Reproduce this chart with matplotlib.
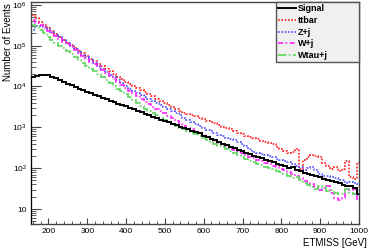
import numpy as np
import matplotlib.pyplot as plt
from matplotlib.ticker import FixedLocator, FuncFormatter

plt.rcParams['font.family'] = ['Liberation Sans', 'DejaVu Sans']
plt.rcParams['mathtext.fontset'] = 'custom'
plt.rcParams['mathtext.rm'] = 'Liberation Sans'
plt.rcParams['mathtext.it'] = 'Liberation Sans'

# bin centres of the ETMISS histograms (GeV), 10 GeV wide
bin_centers = np.arange(160, 1001, 10)

# log10(number of events) per bin
signal_log = [4.22, 4.26, 4.28, 4.29, 4.28, 4.24, 4.20, 4.15, 4.11, 4.07,
              4.03, 3.99, 3.95, 3.91, 3.87, 3.84, 3.80, 3.76, 3.73, 3.69,
              3.65, 3.62, 3.58, 3.54, 3.51, 3.47, 3.44, 3.40, 3.37, 3.33,
              3.30, 3.26, 3.23, 3.19, 3.16, 3.12, 3.09, 3.05, 3.02, 2.99,
              2.95, 2.92, 2.88, 2.85, 2.80, 2.76, 2.72, 2.68, 2.64, 2.60,
              2.56, 2.53, 2.49, 2.45, 2.41, 2.38, 2.34, 2.31, 2.27, 2.25,
              2.21, 2.18, 2.15, 2.11, 2.09, 2.05, 2.01, 2.04, 1.95, 1.94,
              1.89, 1.86, 1.84, 1.80, 1.78, 1.74, 1.71, 1.69, 1.65, 1.63,
              1.60, 1.57, 1.56, 1.52, 1.37]
ttbar_log = [5.76, 5.67, 5.58, 5.51, 5.43, 5.36, 5.29, 5.22, 5.14, 5.07,
             5.01, 4.94, 4.87, 4.81, 4.74, 4.68, 4.62, 4.55, 4.49, 4.43,
             4.37, 4.31, 4.24, 4.18, 4.12, 4.06, 4.01, 3.96, 3.92, 3.86,
             3.81, 3.76, 3.70, 3.65, 3.60, 3.55, 3.49, 3.44, 3.39, 3.36,
             3.33, 3.30, 3.28, 3.24, 3.21, 3.16, 3.13, 3.10, 3.06, 3.02,
             2.99, 2.95, 2.92, 2.87, 2.84, 2.80, 2.77, 2.74, 2.71, 2.66,
             2.64, 2.62, 2.58, 2.52, 2.48, 2.43, 2.38, 2.40, 2.47, 1.98,
             2.20, 2.28, 2.32, 2.31, 2.28, 2.12, 2.06, 1.98, 2.03, 1.92,
             1.97, 2.18, 1.78, 1.74, 2.12]
zj_log = [5.38, 5.47, 5.49, 5.46, 5.40, 5.34, 5.27, 5.20, 5.13, 5.06,
          4.99, 4.92, 4.85, 4.78, 4.71, 4.64, 4.57, 4.50, 4.43, 4.36,
          4.29, 4.22, 4.15, 4.08, 4.01, 3.94, 3.89, 3.84, 3.79, 3.74,
          3.69, 3.64, 3.59, 3.54, 3.49, 3.44, 3.39, 3.34, 3.29, 3.24,
          3.19, 3.13, 3.08, 3.03, 2.98, 2.94, 2.90, 2.86, 2.82, 2.78,
          2.75, 2.71, 2.68, 2.64, 2.60, 2.54, 2.46, 2.40, 2.38, 2.35,
          2.32, 2.30, 2.27, 2.23, 2.20, 2.17, 2.14, 2.10, 2.06, 2.02,
          1.95, 2.00, 2.02, 1.95, 1.86, 1.82, 1.80, 1.78, 1.75, 1.72,
          1.70, 1.63, 1.65, 1.63, 1.62]
wj_log = [5.63, 5.56, 5.50, 5.44, 5.37, 5.31, 5.24, 5.17, 5.10, 5.03,
          4.96, 4.89, 4.82, 4.75, 4.68, 4.61, 4.54, 4.47, 4.40, 4.33,
          4.26, 4.19, 4.11, 4.04, 3.97, 3.90, 3.83, 3.76, 3.69, 3.62,
          3.56, 3.50, 3.44, 3.39, 3.34, 3.28, 3.22, 3.15, 3.09, 3.04,
          2.99, 2.95, 2.91, 2.86, 2.81, 2.76, 2.71, 2.66, 2.61, 2.57,
          2.52, 2.48, 2.44, 2.40, 2.36, 2.32, 2.28, 2.24, 2.21, 2.17,
          2.13, 2.10, 2.06, 2.02, 1.99, 1.95, 1.90, 1.86, 1.80, 1.75,
          1.69, 1.66, 1.62, 1.55, 1.47, 1.52, 1.56, 1.40, 1.27, 1.22,
          1.28, 1.57, 1.47, 1.50, 1.22]
wtauj_log = [5.50, 5.45, 5.38, 5.30, 5.22, 5.15, 5.07, 5.00, 4.93, 4.86,
             4.79, 4.72, 4.65, 4.58, 4.51, 4.44, 4.37, 4.30, 4.23, 4.16,
             4.09, 4.02, 3.95, 3.88, 3.81, 3.74, 3.67, 3.60, 3.53, 3.46,
             3.40, 3.35, 3.29, 3.24, 3.18, 3.13, 3.08, 3.03, 2.99, 2.95,
             2.91, 2.87, 2.83, 2.78, 2.73, 2.69, 2.65, 2.60, 2.55, 2.51,
             2.46, 2.42, 2.37, 2.32, 2.27, 2.22, 2.18, 2.14, 2.10, 2.07,
             2.04, 2.00, 1.97, 1.94, 1.90, 1.86, 1.80, 1.76, 1.79, 1.70,
             1.64, 1.60, 1.53, 1.49, 1.57, 1.54, 1.45, 1.47, 1.40, 1.37,
             1.36, 1.50, 1.39, 1.37, 1.55]

labels = ['Signal', 'ttbar', 'Z+j', 'W+j', 'Wtau+j']
colors = ['black', '#ff1a1a', '#5050ff', '#ff22ff', '#5cd65c']
styles = ['-', (0, (1, 1)), (0, (1, 1)), (0, (3, 1.5, 1, 1.5)), (0, (5, 1.5, 1, 1.5))]

edges = np.append(bin_centers - 5, bin_centers[-1] + 5)

fig = plt.figure(figsize=(3.68, 2.5), dpi=100)
ax = fig.add_axes([31 / 368, 1 - 224 / 250, 328 / 368, 222 / 250])

series = [signal_log, ttbar_log, zj_log, wj_log, wtauj_log]
# backgrounds first, signal on top
for k in [1, 2, 3, 4, 0]:
    vals = 10 ** np.array(series[k])
    ax.stairs(vals, edges, color=colors[k], linestyle=styles[k],
              linewidth=1.4 if k == 0 else 1.2, label=labels[k],
              zorder=3 if k == 0 else 2)

ax.set_yscale('log')
ax.set_xlim(155, 1000)
ax.set_ylim(4.3, 1.17e6)

ax.xaxis.set_major_locator(FixedLocator(np.arange(200, 1001, 100)))
ax.xaxis.set_minor_locator(FixedLocator(np.arange(160, 1001, 20)))
ax.yaxis.set_major_locator(FixedLocator([10, 1e2, 1e3, 1e4, 1e5, 1e6]))
minors = [m * 10 ** e for e in range(0, 6) for m in range(2, 10)]
ax.yaxis.set_minor_locator(FixedLocator(minors))


def fmt_y(v, pos):
    e = int(round(np.log10(v)))
    return '10' if e == 1 else r'$\mathregular{10^{%d}}$' % e


ax.yaxis.set_major_formatter(FuncFormatter(fmt_y))
ax.tick_params(which='both', direction='in', top=False, right=False,
               labelsize=6, color='#444444')
ax.tick_params(axis='y', which='major', length=7.5, pad=3)
ax.tick_params(axis='y', which='minor', length=3.7)
ax.tick_params(axis='x', which='major', length=4, pad=3)
ax.tick_params(axis='x', which='minor', length=2)
for sp in ax.spines.values():
    sp.set_color('#444444')
    sp.set_linewidth(1)

fig.text(8 / 368, 1 - 3 / 250, 'Number of Events', rotation=90,
         ha='center', va='top', fontsize=7)
fig.text(367 / 368, 1 - 243 / 250, 'ETMISS [GeV]', ha='right', va='center', fontsize=7)

handles, lbls = ax.get_legend_handles_labels()
order = [lbls.index(l) for l in labels]
leg = ax.legend([handles[i] for i in order], [lbls[i] for i in order],
                loc='upper left', bbox_to_anchor=(0.747, 0.75, 0.253, 0.25),
                mode='expand', borderaxespad=0,
                fancybox=False, frameon=True, edgecolor='#555555', facecolor='#f0f0f0',
                framealpha=1, prop={'weight': 'bold', 'size': 6.5},
                handlelength=2.0, handletextpad=0.2, labelspacing=0.3,
                borderpad=0.25)
leg.get_frame().set_linewidth(1)
leg.set_zorder(5)

plt.savefig('out.png', dpi=100)
